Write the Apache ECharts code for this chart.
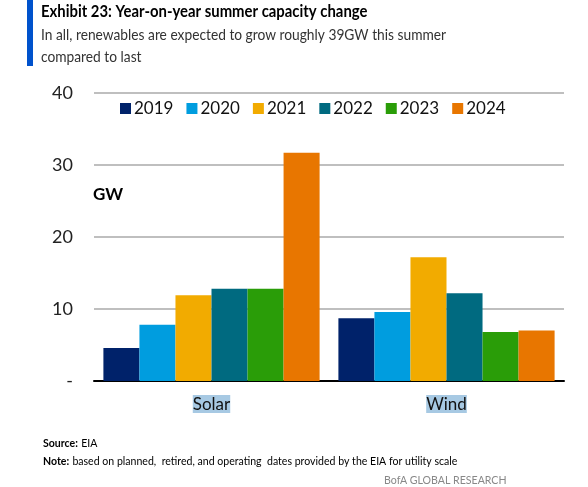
<!DOCTYPE html>
<html><head><meta charset="utf-8">
<script src="https://cdn.jsdelivr.net/npm/echarts@6/dist/echarts.min.js"></script>
<style>html,body{margin:0;padding:0;background:#fff}#c{width:588px;height:487px}</style>
</head><body><div id="c"></div>
<script>
const categories = ['Solar', 'Wind'];
const years = ['2019', '2020', '2021', '2022', '2023', '2024'];
const v2019 = [4.6, 8.7];
const v2020 = [7.8, 9.6];
const v2021 = [11.9, 17.2];
const v2022 = [12.8, 12.2];
const v2023 = [12.8, 6.8];
const v2024 = [31.7, 7.0];
const yTicks = [0, 10, 20, 30, 40];
const colors = ['#00226a', '#009ddf', '#f2ab00', '#006a80', '#2a9d08', '#e87600'];
const seriesValues = [v2019, v2020, v2021, v2022, v2023, v2024];
const FONT = 'Lato';

const chart = echarts.init(document.getElementById('c'));
chart.setOption({
  animation: false,
  textStyle: { fontFamily: FONT },
  graphic: [
    { type: 'rect', shape: { x: 27, y: 0, width: 6, height: 66 }, style: { fill: '#0052cc' } },
    { type: 'text', x: 41, y: 3, scaleX: 0.875, style: { text: 'Exhibit 23: Year-on-year summer capacity change', font: 'bold 17px ' + FONT, fill: '#000' } },
    { type: 'text', x: 41, y: 24, scaleX: 0.86, style: { text: 'In all, renewables are expected to grow roughly 39GW this summer\ncompared to last', font: '16px ' + FONT, fill: '#333', lineHeight: 22 } },
    { type: 'text', x: 93, y: 186, style: { text: 'GW', font: 'bold 17px ' + FONT, fill: '#000' } },
    { type: 'text', x: 43, y: 437, scaleX: 0.96, style: { rich: { b: { font: 'bold 11px ' + FONT, fill: '#000' }, n: { font: '11px ' + FONT, fill: '#000' } }, text: '{b|Source:} {n|EIA}' } },
    { type: 'text', x: 43, y: 455, scaleX: 0.96, style: { rich: { b: { font: 'bold 11px ' + FONT, fill: '#000' }, n: { font: '11px ' + FONT, fill: '#000' } }, text: '{b|Note:} {n|based on planned,  retired, and operating  dates provided by the EIA for utility scale}' } },
    { type: 'text', x: 384, y: 474, scaleX: 0.92, style: { text: 'BofA GLOBAL RESEARCH', font: '11.5px ' + FONT, fill: '#888' } }
  ],
  legend: {
    data: years,
    left: 115, top: 95,
    itemWidth: 11, itemHeight: 11, itemGap: 13,
    icon: 'rect',
    textStyle: { fontSize: 17, color: '#111', fontFamily: FONT, padding: [0, 0, 0, -2] }
  },
  grid: { left: 94, right: 24, top: 93, bottom: 106, containLabel: false },
  xAxis: {
    type: 'category', data: categories,
    axisLine: { lineStyle: { color: '#000', width: 2 } },
    axisTick: { show: false },
    axisLabel: { fontSize: 17, color: '#111', margin: 14, backgroundColor: '#a7c9e3', padding: [1, 0, 0, 0] }
  },
  yAxis: {
    type: 'value', min: 0, max: 40, interval: 10,
    axisLine: { show: false }, axisTick: { show: false },
    splitLine: { lineStyle: { color: '#bfbfbf', width: 2 } },
    axisLabel: { fontSize: 18, color: '#222', margin: 21, formatter: v => yTicks.includes(v) ? (v === 0 ? '-' : String(v)) : '' }
  },
  series: years.map((y, i) => ({
    name: y, type: 'bar', data: seriesValues[i],
    barGap: '0%', barCategoryGap: '8%',
    itemStyle: { color: colors[i] }
  }))
});
</script></body></html>
